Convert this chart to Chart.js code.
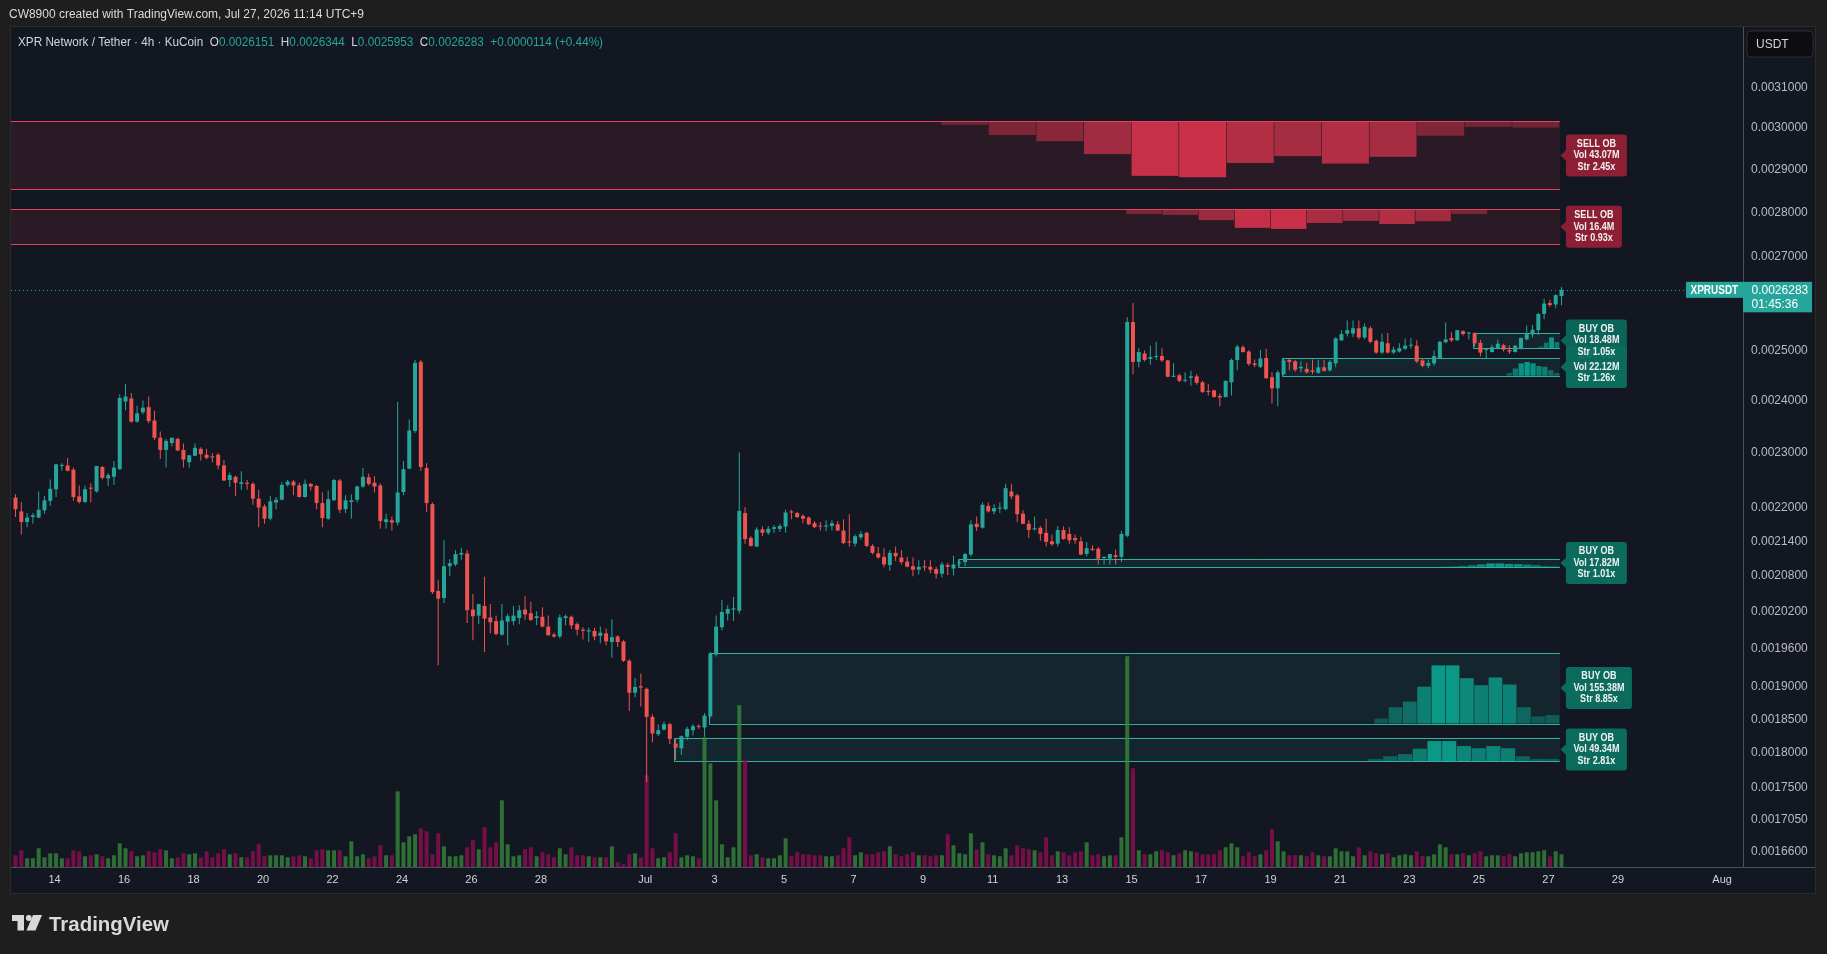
<!DOCTYPE html>
<html>
<head>
<meta charset="utf-8">
<title>XPR Network / Tether · 4h · KuCoin</title>
<script src="https://cdn.jsdelivr.net/npm/chart.js@4.4.1/dist/chart.umd.min.js"></script>
<style>
  html, body { margin: 0; padding: 0; background: #1e1e1e; }
  canvas { display: block; }
</style>
</head>
<body>
<canvas id="xprChart" width="1827" height="954"></canvas>
<script>
// =======================================
// CANDLES (4h, USDT) - time in days since Jun 1 00:00 (UTC+9)
// =======================================

const firstCandleDay = 11.875;   // Jun 12, 21:00
const candleStep = 1 / 6;        // 4 hours

const openPrices = [
0.002218,0.002193,0.002174,0.002183,0.002182,0.002195,0.002212,0.002233,0.002276,0.002277,
0.002269,0.002220,0.002210,0.002236,0.002229,0.002274,0.002253,0.002256,0.002270,0.002399,
0.002405,0.002360,0.002378,0.002388,0.002362,0.002329,0.002306,0.002319,0.002327,0.002306,
0.002283,0.002295,0.002308,0.002297,0.002293,0.002297,0.002277,0.002250,0.002256,0.002243,
0.002245,0.002243,0.002216,0.002202,0.002180,0.002209,0.002214,0.002241,0.002247,0.002240,
0.002219,0.002243,0.002239,0.002208,0.002180,0.002213,0.002249,0.002197,0.002210,0.002214,
0.002238,0.002255,0.002245,0.002240,0.002174,0.002177,0.002173,0.002228,0.002271,0.002342,
0.002478,0.002272,0.002206,0.002055,0.002043,0.002097,0.002100,0.002117,0.002119,0.002024,
0.002014,0.002030,0.002011,0.002005,0.001983,0.002004,0.002005,0.002010,0.002024,0.002018,
0.002010,0.002012,0.001996,0.001983,0.001980,0.002010,0.002012,0.002000,0.001991,0.001988,
0.001989,0.001981,0.001985,0.001971,0.001980,0.001972,0.001941,0.001891,0.001901,0.001897,
0.001854,0.001828,0.001835,0.001843,0.001814,0.001807,0.001824,0.001834,0.001840,0.001838,
0.001855,0.001951,0.001995,0.002017,0.002024,0.002022,0.002190,0.002146,0.002131,0.002161,
0.002155,0.002162,0.002162,0.002166,0.002193,0.002190,0.002185,0.002182,0.002172,0.002167,
0.002166,0.002167,0.002170,0.002159,0.002140,0.002136,0.002147,0.002155,0.002132,0.002119,
0.002113,0.002099,0.002120,0.002112,0.002105,0.002097,0.002091,0.002096,0.002096,0.002092,
0.002084,0.002099,0.002093,0.002102,0.002104,0.002117,0.002171,0.002164,0.002203,0.002193,
0.002198,0.002197,0.002229,0.002222,0.002189,0.002171,0.002161,0.002164,0.002155,0.002140,
0.002136,0.002160,0.002153,0.002146,0.002140,0.002118,0.002127,0.002127,0.002111,0.002110,
0.002116,0.002113,0.002150,0.002560,0.002478,0.002495,0.002484,0.002488,0.002490,0.002481,
0.002448,0.002451,0.002440,0.002446,0.002449,0.002437,0.002420,0.002421,0.002410,0.002408,
0.002437,0.002482,0.002508,0.002499,0.002475,0.002468,0.002486,0.002447,0.002425,0.002453,
0.002482,0.002479,0.002465,0.002464,0.002461,0.002456,0.002467,0.002461,0.002475,0.002522,
0.002536,0.002536,0.002547,0.002528,0.002547,0.002521,0.002497,0.002516,0.002497,0.002499,
0.002505,0.002511,0.002511,0.002481,0.002470,0.002475,0.002486,0.002518,0.002527,0.002522,
0.002541,0.002536,0.002537,0.002517,0.002502,0.002498,0.002505,0.002512,0.002502,0.002498,
0.002505,0.002524,0.002534,0.002543,0.002577,0.002600,0.002597,0.0026151
];

const highPrices = [
0.002224,0.002210,0.002190,0.002190,0.002229,0.002221,0.002251,0.002279,0.002281,0.002291,
0.002273,0.002240,0.002240,0.002244,0.002276,0.002276,0.002263,0.002285,0.002413,0.002434,
0.002416,0.002391,0.002401,0.002409,0.002381,0.002341,0.002327,0.002329,0.002329,0.002318,
0.002296,0.002318,0.002311,0.002308,0.002300,0.002300,0.002287,0.002264,0.002258,0.002266,
0.002250,0.002246,0.002232,0.002206,0.002221,0.002219,0.002246,0.002250,0.002250,0.002245,
0.002251,0.002244,0.002241,0.002227,0.002231,0.002252,0.002252,0.002222,0.002224,0.002240,
0.002272,0.002262,0.002257,0.002244,0.002189,0.002184,0.002398,0.002285,0.002364,0.002482,
0.002482,0.002281,0.002209,0.002073,0.002142,0.002109,0.002125,0.002129,0.002125,0.002050,
0.002033,0.002079,0.002033,0.002014,0.002033,0.002017,0.002030,0.002031,0.002046,0.002037,
0.002021,0.002028,0.002014,0.001986,0.002016,0.002016,0.002014,0.002003,0.001995,0.001994,
0.001994,0.001996,0.001993,0.002008,0.001982,0.001974,0.001944,0.001914,0.001921,0.001899,
0.001858,0.001843,0.001847,0.001845,0.001822,0.001826,0.001839,0.001843,0.001843,0.001860,
0.001955,0.002014,0.002040,0.002031,0.002045,0.002301,0.002201,0.002149,0.002165,0.002166,
0.002167,0.002169,0.002171,0.002196,0.002196,0.002192,0.002188,0.002184,0.002176,0.002174,
0.002177,0.002177,0.002176,0.002179,0.002188,0.002152,0.002158,0.002157,0.002135,0.002130,
0.002128,0.002125,0.002131,0.002125,0.002113,0.002112,0.002107,0.002108,0.002107,0.002096,
0.002104,0.002103,0.002115,0.002108,0.002120,0.002177,0.002184,0.002209,0.002209,0.002206,
0.002209,0.002243,0.002243,0.002225,0.002195,0.002177,0.002184,0.002167,0.002180,0.002152,
0.002167,0.002166,0.002165,0.002152,0.002148,0.002139,0.002133,0.002130,0.002114,0.002118,
0.002126,0.002158,0.002570,0.002600,0.002506,0.002501,0.002511,0.002519,0.002506,0.002482,
0.002475,0.002454,0.002457,0.002460,0.002453,0.002440,0.002434,0.002422,0.002415,0.002440,
0.002485,0.002513,0.002512,0.002502,0.002483,0.002502,0.002505,0.002457,0.002461,0.002485,
0.002485,0.002482,0.002479,0.002476,0.002483,0.002482,0.002482,0.002482,0.002528,0.002543,
0.002563,0.002563,0.002563,0.002557,0.002551,0.002524,0.002536,0.002537,0.002509,0.002516,
0.002526,0.002527,0.002522,0.002485,0.002483,0.002501,0.002521,0.002559,0.002539,0.002543,
0.002543,0.002540,0.002539,0.002523,0.002505,0.002513,0.002524,0.002515,0.002512,0.002512,
0.002528,0.002553,0.002554,0.002579,0.002609,0.002607,0.002619,0.0026344
];

const lowPrices = [
0.002183,0.002152,0.002165,0.002171,0.002181,0.002189,0.002203,0.002219,0.002267,0.002266,
0.002212,0.002207,0.002208,0.002209,0.002227,0.002251,0.002239,0.002241,0.002269,0.002382,
0.002358,0.002358,0.002374,0.002357,0.002325,0.002289,0.002273,0.002313,0.002304,0.002273,
0.002273,0.002294,0.002286,0.002288,0.002283,0.002270,0.002249,0.002237,0.002221,0.002232,
0.002232,0.002205,0.002165,0.002171,0.002177,0.002197,0.002213,0.002238,0.002222,0.002218,
0.002218,0.002231,0.002197,0.002165,0.002177,0.002212,0.002190,0.002190,0.002180,0.002209,
0.002236,0.002240,0.002227,0.002162,0.002162,0.002159,0.002168,0.002222,0.002270,0.002338,
0.002267,0.002192,0.002050,0.001934,0.002035,0.002080,0.002097,0.002108,0.002002,0.001974,
0.002000,0.001955,0.001985,0.001982,0.001981,0.001966,0.001998,0.002000,0.002007,0.002005,
0.001998,0.001995,0.001981,0.001978,0.001977,0.001998,0.001992,0.001982,0.001975,0.001971,
0.001974,0.001969,0.001966,0.001946,0.001963,0.001939,0.001863,0.001884,0.001870,0.001758,
0.001816,0.001825,0.001833,0.001813,0.001790,0.001797,0.001819,0.001826,0.001836,0.001824,
0.001853,0.001948,0.001990,0.002006,0.002005,0.002017,0.002136,0.002131,0.002130,0.002149,
0.002151,0.002155,0.002157,0.002155,0.002179,0.002181,0.002172,0.002169,0.002163,0.002159,
0.002158,0.002159,0.002158,0.002135,0.002131,0.002131,0.002143,0.002130,0.002117,0.002110,
0.002095,0.002089,0.002106,0.002100,0.002095,0.002080,0.002083,0.002089,0.002085,0.002076,
0.002078,0.002082,0.002081,0.002097,0.002097,0.002114,0.002158,0.002162,0.002191,0.002188,
0.002190,0.002195,0.002215,0.002174,0.002170,0.002146,0.002159,0.002141,0.002131,0.002132,
0.002131,0.002143,0.002136,0.002136,0.002116,0.002114,0.002123,0.002100,0.002100,0.002100,
0.002100,0.002104,0.002147,0.002453,0.002467,0.002479,0.002472,0.002482,0.002478,0.002447,
0.002447,0.002437,0.002437,0.002430,0.002432,0.002416,0.002411,0.002407,0.002390,0.002407,
0.002411,0.002461,0.002497,0.002470,0.002467,0.002465,0.002444,0.002395,0.002390,0.002451,
0.002461,0.002458,0.002457,0.002454,0.002453,0.002454,0.002458,0.002458,0.002467,0.002521,
0.002530,0.002529,0.002524,0.002525,0.002516,0.002494,0.002494,0.002495,0.002494,0.002497,
0.002502,0.002505,0.002476,0.002467,0.002465,0.002470,0.002485,0.002516,0.002519,0.002521,
0.002532,0.002524,0.002509,0.002489,0.002486,0.002497,0.002503,0.002499,0.002494,0.002497,
0.002503,0.002522,0.002528,0.002533,0.002566,0.002592,0.002589,0.0025953
];

const closePrices = [
0.002197,0.002174,0.002182,0.002186,0.002196,0.002213,0.002234,0.002279,0.002278,0.002267,
0.002219,0.002210,0.002233,0.002234,0.002276,0.002254,0.002259,0.002273,0.002406,0.002409,
0.002360,0.002376,0.002387,0.002361,0.002329,0.002306,0.002323,0.002329,0.002305,0.002288,
0.002296,0.002310,0.002298,0.002291,0.002292,0.002277,0.002249,0.002259,0.002245,0.002246,
0.002243,0.002216,0.002200,0.002180,0.002211,0.002214,0.002241,0.002247,0.002240,0.002219,
0.002243,0.002238,0.002208,0.002181,0.002215,0.002250,0.002196,0.002213,0.002213,0.002238,
0.002256,0.002243,0.002238,0.002176,0.002179,0.002173,0.002227,0.002270,0.002343,0.002476,
0.002274,0.002208,0.002053,0.002042,0.002097,0.002102,0.002118,0.002120,0.002023,0.002013,
0.002033,0.002009,0.002003,0.001984,0.002006,0.002013,0.002014,0.002023,0.002016,0.002007,
0.002013,0.001996,0.001982,0.001980,0.002011,0.002013,0.001998,0.001991,0.001989,0.001990,
0.001980,0.001986,0.001972,0.001979,0.001971,0.001941,0.001891,0.001900,0.001899,0.001854,
0.001829,0.001834,0.001843,0.001821,0.001808,0.001825,0.001836,0.001840,0.001839,0.001856,
0.001952,0.001996,0.002020,0.002025,0.002026,0.002194,0.002144,0.002132,0.002161,0.002155,
0.002162,0.002165,0.002167,0.002191,0.002191,0.002183,0.002180,0.002170,0.002165,0.002166,
0.002168,0.002172,0.002159,0.002137,0.002138,0.002149,0.002153,0.002132,0.002120,0.002112,
0.002100,0.002120,0.002114,0.002104,0.002096,0.002091,0.002096,0.002095,0.002091,0.002084,
0.002100,0.002096,0.002100,0.002103,0.002118,0.002170,0.002165,0.002205,0.002193,0.002199,
0.002200,0.002235,0.002220,0.002188,0.002171,0.002160,0.002163,0.002153,0.002139,0.002135,
0.002160,0.002144,0.002142,0.002142,0.002117,0.002128,0.002125,0.002110,0.002113,0.002118,
0.002113,0.002153,0.002560,0.002478,0.002498,0.002482,0.002488,0.002490,0.002481,0.002448,
0.002450,0.002440,0.002442,0.002449,0.002436,0.002418,0.002418,0.002408,0.002407,0.002440,
0.002482,0.002509,0.002498,0.002474,0.002472,0.002485,0.002445,0.002425,0.002457,0.002481,
0.002478,0.002462,0.002468,0.002457,0.002458,0.002467,0.002460,0.002478,0.002526,0.002535,
0.002543,0.002547,0.002528,0.002550,0.002519,0.002497,0.002519,0.002497,0.002503,0.002506,
0.002511,0.002513,0.002479,0.002470,0.002476,0.002490,0.002519,0.002524,0.002522,0.002543,
0.002535,0.002537,0.002516,0.002497,0.002504,0.002508,0.002515,0.002503,0.002499,0.002511,
0.002527,0.002535,0.002544,0.002577,0.002599,0.002596,0.0026169,0.0026283
];

// volume per candle, millions of XPR
const volumeM = [
11.7,16.7,8.7,8.7,18.7,9.7,13.7,13.7,8.7,8.7,
16.7,15.7,10.7,11.7,12.7,10.7,8.7,11.7,23.7,18.7,
15.7,10.7,11.7,15.7,14.7,17.7,16.7,8.7,9.7,13.7,
12.7,13.7,9.7,15.7,9.7,13.7,17.7,12.7,13.7,9.7,
9.7,15.7,22.7,10.7,11.7,11.7,11.7,9.7,10.7,11.7,
10.7,8.7,16.7,17.7,16.7,16.7,16.7,10.7,25.7,10.7,
12.7,8.7,10.7,21.7,11.7,11.7,75.7,24.7,30.7,32.7,
38.7,35.7,12.7,33.7,20.7,10.7,10.7,11.7,19.7,26.7,
17.7,39.7,19.7,24.7,66.7,22.7,10.7,11.7,17.7,19.7,
10.7,14.7,12.7,9.7,18.7,12.7,19.7,11.7,11.7,10.7,
9.7,9.7,9.7,20.7,4.7,2.7,12.7,13.7,9.7,91.7,
18.7,8.7,9.7,14.7,33.7,9.7,11.7,10.7,8.7,129.7,
103.7,66.7,22.7,9.7,19.7,161.7,106.7,11.7,12.7,9.7,
8.7,8.7,11.7,28.7,10.7,14.7,12.7,12.7,11.7,11.7,
10.7,10.7,11.7,18.7,29.7,11.7,14.7,12.7,12.7,14.7,
15.7,20.7,12.7,10.7,12.7,14.7,11.7,11.7,10.7,11.7,
11.7,32.7,21.7,13.7,12.7,33.7,17.7,24.7,12.7,11.7,
10.7,18.7,11.7,21.7,18.7,17.7,16.7,14.7,29.7,11.7,
15.7,14.7,11.7,14.7,15.7,24.7,11.7,12.7,10.7,11.7,
11.7,29.7,210.7,98.7,16.7,12.7,12.7,15.7,16.7,14.7,
11.7,13.7,16.7,15.7,14.7,12.7,12.7,12.7,16.7,19.7,
23.7,19.7,10.7,14.7,10.7,12.7,16.7,37.7,25.7,15.7,
11.7,11.7,11.7,10.7,14.7,11.7,10.7,10.7,18.7,15.7,
15.7,10.7,19.7,11.7,15.7,13.7,12.7,13.7,9.7,11.7,
12.7,11.7,15.7,10.7,10.7,12.7,22.7,19.7,12.7,12.7,
13.7,11.7,13.7,15.7,10.7,11.7,11.7,10.7,12.7,10.7,
13.7,14.7,14.7,15.7,16.7,10.7,15.7,12.7
];

// =======================================
// AXES
// =======================================

const timeTickDays = [13,15,17,19,21,23,25,27,30,32,34,36,38,40,42,44,46,48,50,52,54,56,58,61];
const timeTickLabels = ["14","16","18","20","22","24","26","28","Jul","3","5","7","9","11","13","15","17","19","21","23","25","27","29","Aug"];
const priceTicks = [0.0031,0.0030,0.0029,0.0028,0.0027,0.0025,0.0024,0.0023,0.0022,0.00214,0.00208,0.00202,0.00196,0.0019,0.00185,0.0018,0.00175,0.001705,0.00166];
const priceMin = 0.00164;
const priceMax = 0.003258;

// =======================================
// ORDER BLOCKS
// =======================================

const obKind = ["sell","sell","buy","buy","buy","buy","buy"];
const obTop = [0.003016,0.002807,0.002538,0.002485,0.002110,0.001954,0.001823];
const obBottom = [0.002853,0.002728,0.002506,0.002450,0.002095,0.001844,0.001788];
const obStartDay = [11.0,11.0,53.84,48.34,39.01,31.85,30.84];
const obEndDay = 56.33;
const obVolume = ["43.07M","16.4M","18.48M","22.12M","17.82M","155.38M","49.34M"];
const obStrength = ["2.45x","0.93x","1.05x","1.26x","1.01x","8.85x","2.81x"];
const obProfileStartDay = [38.52,43.85,55.71,54.80,52.88,50.99,50.82];
// volume profile inside each block, % of the block height
const obProfiles = [
  [5,20,29,48,80,82,61,51,62,52,21,8,9],
  [13,16,31,53,56,39,33,42,34,13,0,0],
  [11,36,69,39],
  [16,42,72,80,72,56,52,32,16],
  [8,12,18,25,35,45,45,40,38,32,25,15,12],
  [7,23,31,52,82,82,64,54,65,55,23,10,12],
  [10,21,30,53,85,85,64,55,64,55,21,10,10]
];

// =======================================
// STYLE
// =======================================

const UP = "#26a69a";
const DOWN = "#ef5350";
const TEXT = "#d1d4dc";
const FONT = '"Liberation Sans", Arial, sans-serif';
Chart.defaults.font.family = FONT;

const candleDay = closePrices.map((_, i) => firstCandleDay + i * candleStep);
const isUp = closePrices.map((c, i) => c >= openPrices[i]);
const candleColors = isUp.map(u => u ? UP : DOWN);
const volumeColors = isUp.map(u => u ? "rgba(56,142,60,0.75)" : "rgba(136,14,79,0.85)");

function squeezed(ctx, text, x, y, sx) {
    ctx.save();
    ctx.translate(x, y);
    ctx.scale(sx, 1);
    ctx.fillText(text, 0, 0);
    ctx.restore();
    return ctx.measureText(text).width * sx;
}

function rrect(ctx, x, y, w, h, r) {
    ctx.beginPath();
    if (ctx.roundRect) ctx.roundRect(x, y, w, h, r);
    else ctx.rect(x, y, w, h);
}

// =======================================
// BACKGROUND, ORDER BLOCKS, LABELS
// =======================================

const tvLook = {
    id: "tvLook",

    beforeDraw(chart) {
        const {ctx, width, height, chartArea: a, scales} = chart;
        const panelRight = scales.y.right;
        const panelBottom = scales.x.bottom;
        ctx.save();
        ctx.fillStyle = "#1e1e1e";
        ctx.fillRect(0, 0, width, height);
        ctx.fillStyle = "#131722";
        ctx.fillRect(a.left, a.top, panelRight - a.left, panelBottom - a.top);
        ctx.strokeStyle = "#2c2c2e";
        ctx.lineWidth = 1;
        ctx.strokeRect(a.left - 0.5, a.top - 0.5, panelRight - a.left + 1, panelBottom - a.top + 1);

        // snapshot header
        ctx.fillStyle = "#dadada";
        ctx.font = "12.5px " + FONT;
        ctx.textBaseline = "middle";
        const head = "CW8900 created with TradingView.com, Jul 27, 2026 11:14 UTC+9";
        squeezed(ctx, head, 9, 15, 355 / ctx.measureText(head).width);

        // footer logo
        const ly = panelBottom + 22;
        ctx.fillStyle = "#d9d9d9";
        ctx.fillRect(12, ly, 12, 6);
        ctx.fillRect(17.5, ly, 6.5, 15.5);
        ctx.beginPath();
        ctx.arc(28.8, ly + 3, 2.9, 0, Math.PI * 2);
        ctx.fill();
        ctx.beginPath();
        ctx.moveTo(33, ly); ctx.lineTo(42, ly); ctx.lineTo(35.5, ly + 15.5); ctx.lineTo(26.5, ly + 15.5);
        ctx.closePath();
        ctx.fill();
        ctx.font = "bold 21px " + FONT;
        ctx.textBaseline = "alphabetic";
        squeezed(ctx, "TradingView", 49, ly + 16, 120 / ctx.measureText("TradingView").width);
        ctx.restore();
    },

    beforeDatasetsDraw(chart) {
        const {ctx, chartArea: a, scales: {x, y}} = chart;
        ctx.save();
        ctx.beginPath();
        ctx.rect(a.left, a.top, a.width, a.height);
        ctx.clip();

        obKind.forEach((kind, k) => {
            const sell = kind === "sell";
            const x0 = x.getPixelForValue(obStartDay[k]);
            const x1 = x.getPixelForValue(obEndDay);
            const yT = y.getPixelForValue(obTop[k]);
            const yB = y.getPixelForValue(obBottom[k]);

            ctx.fillStyle = sell ? "rgba(242,54,69,0.10)" : "rgba(38,166,154,0.10)";
            ctx.fillRect(x0, yT, x1 - x0, yB - yT);

            const prof = obProfiles[k];
            const maxV = Math.max(...prof);
            const step = (obEndDay - obProfileStartDay[k]) / prof.length;
            prof.forEach((v, j) => {
                if (!v) return;
                const c0 = x.getPixelForValue(obProfileStartDay[k] + j * step);
                const c1 = x.getPixelForValue(obProfileStartDay[k] + (j + 1) * step);
                const h = (yB - yT) * v / 100;
                const alpha = (0.35 + 0.55 * v / maxV).toFixed(2);
                ctx.fillStyle = sell ? `rgba(220,52,78,${alpha})` : `rgba(10,165,145,${alpha})`;
                ctx.fillRect(c0, sell ? yT : yB - h, c1 - c0 - 0.6, h);
            });

            ctx.strokeStyle = sell ? "#e0435a" : "#2ab3a0";
            ctx.lineWidth = 1;
            const t = Math.round(yT) + 0.5, b = Math.round(yB) + 0.5, l = Math.round(x0) + 0.5;
            ctx.beginPath();
            ctx.moveTo(x1, t); ctx.lineTo(l, t); ctx.lineTo(l, b); ctx.lineTo(x1, b);
            ctx.stroke();
        });

        // last price dotted line
        const yLast = Math.round(y.getPixelForValue(closePrices[closePrices.length - 1])) + 0.5;
        ctx.strokeStyle = UP;
        ctx.setLineDash([1, 3]);
        ctx.beginPath();
        ctx.moveTo(a.left, yLast);
        ctx.lineTo(a.right, yLast);
        ctx.stroke();
        ctx.restore();
    },

    afterDraw(chart) {
        const {ctx, chartArea: a, scales: {x, y}} = chart;
        ctx.save();

        // axis border under the price scale
        ctx.strokeStyle = "#4b4f5a";
        ctx.beginPath();
        ctx.moveTo(a.right, a.bottom + 0.5);
        ctx.lineTo(y.right, a.bottom + 0.5);
        ctx.stroke();

        // order block callouts
        ctx.font = "bold 10px " + FONT;
        ctx.textAlign = "center";
        ctx.textBaseline = "middle";
        const sx = 46 / ctx.measureText("Vol 43.07M").width;
        for (let k = obKind.length - 1; k >= 0; k--) {
            const sell = obKind[k] === "sell";
            const lines = [sell ? "SELL OB" : "BUY OB", "Vol " + obVolume[k], "Str " + obStrength[k]];
            const w = Math.max(...lines.map(s => ctx.measureText(s).width)) * sx + 15;
            const xr = x.getPixelForValue(obEndDay);
            const cy = (y.getPixelForValue(obTop[k]) + y.getPixelForValue(obBottom[k])) / 2;
            const lx = xr + 6, lh = 42;
            ctx.globalAlpha = k === 2 ? 0.93 : 1;
            ctx.fillStyle = sell ? "#8c1f33" : "#0b6b5d";
            rrect(ctx, lx, cy - lh / 2, w, lh, 3);
            ctx.fill();
            ctx.beginPath();
            ctx.moveTo(xr + 0.5, cy); ctx.lineTo(lx + 1, cy - 6); ctx.lineTo(lx + 1, cy + 6);
            ctx.closePath();
            ctx.fill();
            ctx.globalAlpha = 1;
            ctx.fillStyle = "#f2f2f2";
            lines.forEach((s, j) => {
                const tw = ctx.measureText(s).width * sx;
                ctx.textAlign = "left";
                squeezed(ctx, s, lx + w / 2 - tw / 2, cy + (j - 1) * 11.5, sx);
            });
        }

        // last price tags
        const last = closePrices[closePrices.length - 1];
        const yLast = y.getPixelForValue(last);
        ctx.font = "bold 12px " + FONT;
        ctx.textAlign = "left";
        const tagSx = 47.7 / ctx.measureText("XPRUSDT").width;
        ctx.fillStyle = UP;
        ctx.fillRect(a.right - 57, yLast - 8, 57, 16);
        ctx.fillStyle = "#ffffff";
        squeezed(ctx, "XPRUSDT", a.right - 52.5, yLast + 0.5, tagSx);
        ctx.fillStyle = UP;
        ctx.fillRect(a.right, yLast - 8, 69, 30.5);
        ctx.fillStyle = "#ffffff";
        ctx.font = "12px " + FONT;
        ctx.fillText(last.toFixed(7), a.right + 8.5, yLast + 0.5);
        ctx.fillText("01:45:36", a.right + 8.5, yLast + 14.5);

        // currency button
        rrect(ctx, a.right + 4, a.top + 4, 66, 26, 4);
        ctx.fillStyle = "#0d0d0f";
        ctx.fill();
        ctx.strokeStyle = "#2f2f33";
        ctx.stroke();
        ctx.fillStyle = TEXT;
        ctx.fillText("USDT", a.right + 13, a.top + 17.5);

        // symbol legend
        const n = closePrices.length - 1;
        const chg = closePrices[n] - closePrices[n - 1];
        const pct = chg / closePrices[n - 1] * 100;
        const pieces = [
            ["XPR Network / Tether · 4h · KuCoin", TEXT],
            ["  O", TEXT], [openPrices[n].toFixed(7), UP],
            ["  H", TEXT], [highPrices[n].toFixed(7), UP],
            ["  L", TEXT], [lowPrices[n].toFixed(7), UP],
            ["  C", TEXT], [closePrices[n].toFixed(7), UP],
            ["  +" + chg.toFixed(7) + " (+" + pct.toFixed(2) + "%)", UP]
        ];
        ctx.font = "13px " + FONT;
        const total = pieces.reduce((s, p) => s + ctx.measureText(p[0]).width, 0);
        const lsx = 585 / total;
        let px = 18;
        pieces.forEach(([s, c]) => {
            ctx.fillStyle = c;
            px += squeezed(ctx, s, px, a.top + 15.5, lsx);
        });
        ctx.restore();
    }
};

// =======================================
// CHART
// =======================================

new Chart(document.getElementById("xprChart"), {
    type: "bar",
    data: {
        datasets: [
            {
                label: "Bodies",
                data: candleDay.map((d, i) => ({x: d, y: [openPrices[i], closePrices[i]]})),
                backgroundColor: candleColors,
                grouped: false,
                maxBarThickness: 4,
                minBarLength: 1,
                yAxisID: "y",
                order: 1
            },
            {
                label: "Wicks",
                data: candleDay.map((d, i) => ({x: d, y: [lowPrices[i], highPrices[i]]})),
                backgroundColor: candleColors,
                grouped: false,
                maxBarThickness: 1,
                yAxisID: "y",
                order: 2
            },
            {
                label: "Volume",
                data: candleDay.map((d, i) => ({x: d, y: volumeM[i]})),
                backgroundColor: volumeColors,
                grouped: false,
                maxBarThickness: 4,
                yAxisID: "yVol",
                order: 3
            }
        ]
    },
    options: {
        responsive: false,
        devicePixelRatio: 1,
        animation: false,
        events: [],
        layout: {padding: {left: 11, top: 27, right: 12, bottom: 61}},
        plugins: {legend: {display: false}, tooltip: {enabled: false}},
        scales: {
            x: {
                type: "linear",
                offset: false,
                bounds: "data",
                min: 11.745,
                max: 61.6,
                grid: {display: false, drawTicks: false, offset: false},
                border: {display: true, color: "#4b4f5a"},
                afterBuildTicks: s => {
                    s.ticks = timeTickDays.map(v => ({value: v}));
                    s.min = 11.745;
                    s.max = 61.6;
                },
                afterFit: s => { s.height = 26; },
                ticks: {
                    autoSkip: false,
                    maxRotation: 0,
                    padding: 6,
                    color: TEXT,
                    font: {size: 11},
                    callback: (v, i) => timeTickLabels[i]
                }
            },
            y: {
                type: "logarithmic",
                position: "right",
                bounds: "data",
                min: priceMin,
                max: priceMax,
                grid: {display: false, drawTicks: false},
                border: {display: true, color: "#4b4f5a"},
                afterBuildTicks: s => {
                    s.ticks = priceTicks.map(v => ({value: v}));
                    s.min = priceMin;
                    s.max = priceMax;
                },
                afterFit: s => { s.width = 72; },
                ticks: {
                    autoSkip: false,
                    padding: 8,
                    color: "#b8bbc4",
                    font: {size: 12},
                    callback: v => Number(v).toFixed(7)
                }
            },
            yVol: {
                type: "linear",
                display: false,
                min: 0,
                max: 840
            }
        }
    },
    plugins: [tvLook]
});
</script>
</body>
</html>
